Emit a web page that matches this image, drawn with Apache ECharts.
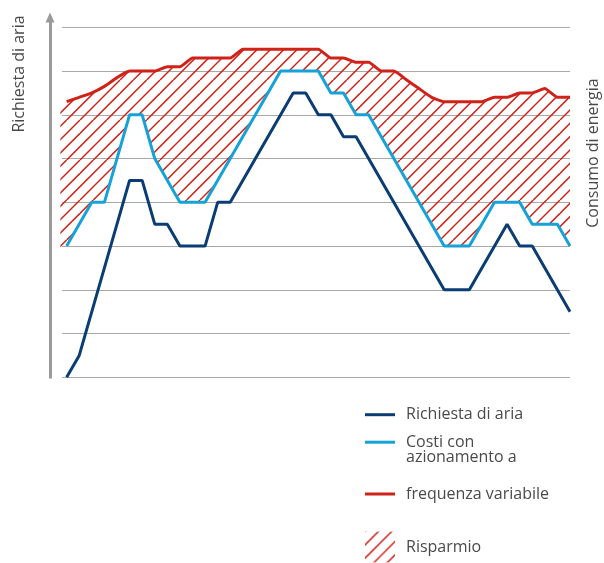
<!DOCTYPE html>
<html>
<head>
<meta charset="utf-8">
<script src="https://cdn.jsdelivr.net/npm/echarts@6/dist/echarts.min.js"></script>
<style>
html,body{margin:0;padding:0;background:#fff;}
#chart{width:604px;height:563px;}
</style>
</head>
<body>
<div id="chart"></div>
<script>
// ---- Data (x = time step 0..40, y = level 0..8) ----
const seriesNames = ['Richiesta di aria', 'Costi con\nazionamento a', 'frequenza variabile', 'Risparmio'];
const axisTitleLeft = 'Richiesta di aria';
const axisTitleRight = 'Consumo di energia';

const demandX = [0, 1, 5, 6, 7, 8, 9, 11, 12, 13, 18, 19, 20, 21, 22, 23, 30, 32, 35, 36, 37, 40];
const demandY = [0, 0.5, 4.5, 4.5, 3.5, 3.5, 3, 3, 4, 4, 6.5, 6.5, 6, 6, 5.5, 5.5, 2, 2, 3.5, 3, 3, 1.5];

const vsdX = [0, 2, 3, 5, 6, 7, 9, 11, 17, 20, 21, 22, 23, 24, 30, 32, 34, 36, 37, 39, 40];
const vsdY = [3, 4, 4, 6, 6, 5, 4, 4, 7, 7, 6.5, 6.5, 6, 6, 3, 3, 4, 4, 3.5, 3.5, 3];

const fixedX = [0,1,2,3,4,5,6,7,8,9,10,11,12,13,14,15,16,17,18,19,20,21,22,23,24,25,26,27,28,29,30,31,32,33,34,35,36,37,38,39,40];
const fixedY = [6.3,6.4,6.5,6.65,6.85,7.0,7.0,7.0,7.1,7.1,7.3,7.3,7.3,7.3,7.5,7.5,7.5,7.5,7.5,7.5,7.5,7.3,7.3,7.2,7.2,7.0,7.0,6.8,6.6,6.4,6.3,6.3,6.3,6.3,6.4,6.4,6.5,6.5,6.6,6.4,6.4];

// the hatched band starts slightly left of the first line point
const hatchStartX = -0.5;
const hatchStartTop = 6.25;
const hatchStartBottom = 2.75;

const pairs = (xs, ys) => xs.map((x, i) => [x, ys[i]]);

// ---- Hatch pattern ----
function makeHatch() {
  const s = 40, c = document.createElement('canvas');
  c.width = s; c.height = s;
  const g = c.getContext('2d');
  g.strokeStyle = '#d2241b';
  g.lineWidth = 1.5;
  for (let k = -1; k <= 7; k++) {
    const o = k * s / 3;
    g.beginPath();
    g.moveTo(o, 0);
    g.lineTo(o - s, s);
    g.stroke();
  }
  return { image: c, repeat: 'repeat' };
}
const hatch = makeHatch();

const DARK = '#0b3d75', CYAN = '#14a2d8', RED = '#cf2219', TXT = '#4a4a4a';
const FONT = '"Open Sans", "Noto Sans", sans-serif';

const chart = echarts.init(document.getElementById('chart'), null, { renderer: 'canvas' });

const lineIcon = 'path://M0,0L30,0L30,3L0,3Z';
const lineIconTop = 'path://M0,0L30,0L30,3L0,3Z M0,18';

const baseLegend = {
  orient: 'vertical', left: 365, padding: 0, selectedMode: false,
  icon: lineIcon, itemWidth: 30, itemHeight: 3, symbolKeepAspect: false,
  textStyle: { color: TXT, fontSize: 16, fontFamily: FONT, lineHeight: 18, padding: [0, 0, 0, 6] }
};

chart.setOption({
  animation: false,
  backgroundColor: '#fff',
  grid: [
    { left: 62, top: 27.3, width: 508, height: 350, containLabel: false },
    { left: 50, top: 17.5, width: 10, bottom: 185.7, containLabel: false }
  ],
  xAxis: [
    { type: 'value', gridIndex: 0, min: -0.37, max: 40, show: false },
    { type: 'value', gridIndex: 1, min: 0, max: 1, show: false }
  ],
  yAxis: [
    {
      type: 'value', gridIndex: 0, min: 0, max: 8, interval: 1,
      axisLine: { show: false }, axisTick: { show: false }, axisLabel: { show: false },
      splitLine: { show: true, lineStyle: { color: '#a8a8a8', width: 1 } }
    },
    {
      type: 'value', gridIndex: 1, min: 0, max: 1,
      axisLine: { show: true, symbol: ['none', 'triangle'], symbolSize: [9, 10],
        lineStyle: { color: '#9a9a9a', width: 3 } },
      axisTick: { show: false }, axisLabel: { show: false }, splitLine: { show: false }
    }
  ],
  legend: [
    Object.assign({}, baseLegend, { top: 405.7, data: [seriesNames[0]] }),
    Object.assign({}, baseLegend, { top: 434.2, icon: lineIconTop, itemHeight: 18, data: [seriesNames[1]],
      textStyle: { color: TXT, fontSize: 16, fontFamily: FONT, lineHeight: 15, padding: [0, 0, 0, 6] } }),
    Object.assign({}, baseLegend, { top: 485, data: [seriesNames[2]] }),
    Object.assign({}, baseLegend, { top: 531.5, icon: 'rect', itemHeight: 31,
      data: [{ name: seriesNames[3], itemStyle: { color: hatch } }] })
  ],
  graphic: [
    { type: 'text', x: 19, y: 74, rotation: Math.PI / 2,
      style: { text: axisTitleLeft, fill: TXT, font: '16px ' + FONT, textAlign: 'center', textVerticalAlign: 'middle' } },
    { type: 'text', x: 593, y: 153, rotation: Math.PI / 2,
      style: { text: axisTitleRight, fill: TXT, font: '16px ' + FONT, textAlign: 'center', textVerticalAlign: 'middle' } }
  ],
  series: [
    {
      name: seriesNames[3], type: 'custom', xAxisIndex: 0, yAxisIndex: 0, z: 1,
      itemStyle: { color: hatch },
      data: [[0, 0]],
      renderItem: function (params, api) {
        if (params.dataIndex !== 0) return;
        const pts = [api.coord([hatchStartX, hatchStartTop])];
        for (let i = 0; i < fixedX.length; i++) pts.push(api.coord([fixedX[i], fixedY[i]]));
        for (let i = vsdX.length - 1; i >= 0; i--) pts.push(api.coord([vsdX[i], vsdY[i]]));
        pts.push(api.coord([hatchStartX, hatchStartBottom]));
        return { type: 'polygon', shape: { points: pts }, style: { fill: hatch }, silent: true };
      }
    },
    {
      name: seriesNames[2], type: 'line', z: 3, data: pairs(fixedX, fixedY),
      showSymbol: false, smooth: 0.15, color: RED,
      lineStyle: { color: RED, width: 3 }
    },
    {
      name: seriesNames[1], type: 'line', z: 4, data: pairs(vsdX, vsdY),
      showSymbol: false, color: CYAN,
      lineStyle: { color: CYAN, width: 3 }
    },
    {
      name: seriesNames[0], type: 'line', z: 5, data: pairs(demandX, demandY),
      showSymbol: false, color: DARK,
      lineStyle: { color: DARK, width: 3 }
    }
  ]
});
</script>
</body>
</html>
